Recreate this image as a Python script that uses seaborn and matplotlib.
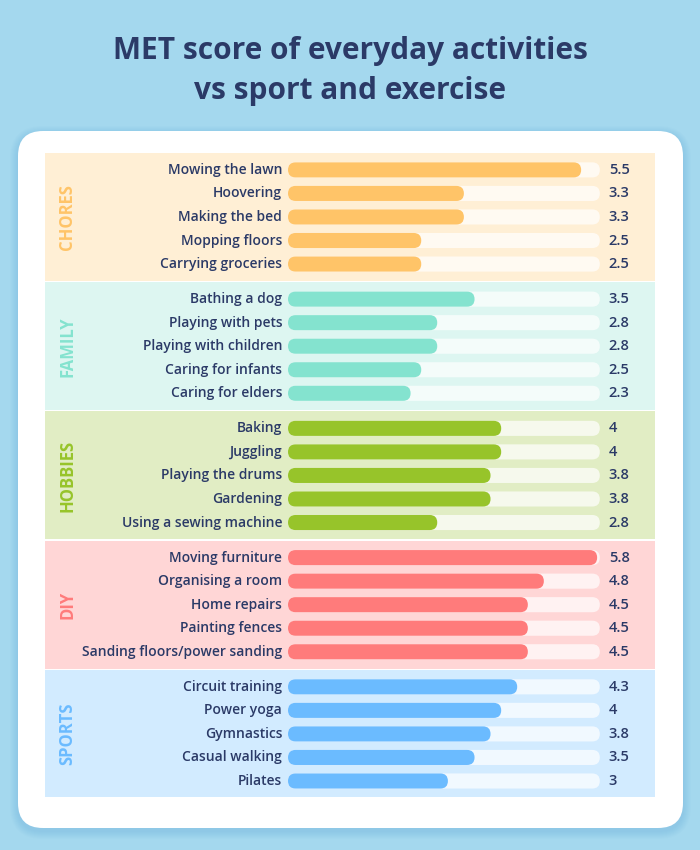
import numpy as np
import pandas as pd
import seaborn as sns
import matplotlib.pyplot as plt
from matplotlib.patches import FancyBboxPatch

# data
groups = ["CHORES", "FAMILY", "HOBBIES", "DIY", "SPORTS"]
chores = ["Mowing the lawn", "Hoovering", "Making the bed", "Mopping floors", "Carrying groceries"]
chores_met = [5.5, 3.3, 3.3, 2.5, 2.5]
family = ["Bathing a dog", "Playing with pets", "Playing with children", "Caring for infants", "Caring for elders"]
family_met = [3.5, 2.8, 2.8, 2.5, 2.3]
hobbies = ["Baking", "Juggling", "Playing the drums", "Gardening", "Using a sewing machine"]
hobbies_met = [4, 4, 3.8, 3.8, 2.8]
diy = ["Moving furniture", "Organising a room", "Home repairs", "Painting fences", "Sanding floors/power sanding"]
diy_met = [5.8, 4.8, 4.5, 4.5, 4.5]
sports = ["Circuit training", "Power yoga", "Gymnastics", "Casual walking", "Pilates"]
sports_met = [4.3, 4, 3.8, 3.5, 3]

bar_colors = ["#FFC468", "#84E3CF", "#97C42A", "#FF7B7B", "#6BBBFF"]
band_colors = ["#FFEFD5", "#DDF6F1", "#E1EDC4", "#FFD6D6", "#D2EBFF"]
bg = "#A4D8EE"
navy = "#2B3A67"

activities = [chores, family, hobbies, diy, sports]
values = [chores_met, family_met, hobbies_met, diy_met, sports_met]

pitch = 5.49   # group spacing in rows
pad = 0.72
track_max = 5.85

rows = []
for g, (names, vals) in enumerate(zip(activities, values)):
    for i, (n, v) in enumerate(zip(names, vals)):
        rows.append({"group": groups[g], "activity": n, "met": v, "pos": g * pitch + i})
df = pd.DataFrame(rows)
df["track"] = track_max

sns.set_style("white")
plt.rcParams["font.family"] = ["Open Sans", "DejaVu Sans"]

W, H = 700, 850
fig = plt.figure(figsize=(W / 100, H / 100), dpi=100, facecolor=bg)

# card with soft shadow
cx0, cy0, cx1, cy1 = 18, 131, 683, 828
ma_fig = W / H
for k in range(8, 0, -1):
    sh = FancyBboxPatch(((cx0 - k) / W, 1 - (cy1 + k + 3) / H), (cx1 - cx0 + 2 * k) / W,
                        (cy1 - cy0 + 2 * k) / H,
                        boxstyle="round,pad=0,rounding_size=%f" % ((25 + k) / W),
                        mutation_aspect=ma_fig, transform=fig.transFigure,
                        facecolor="#5FA8D6", edgecolor="none", alpha=0.035, zorder=0)
    fig.patches.append(sh)
card = FancyBboxPatch((cx0 / W, 1 - cy1 / H), (cx1 - cx0) / W, (cy1 - cy0) / H,
                      boxstyle="round,pad=0,rounding_size=%f" % (25 / W),
                      mutation_aspect=ma_fig, transform=fig.transFigure,
                      facecolor="white", edgecolor="none", zorder=1)
fig.patches.append(card)

fig.text(0.5, 1 - 51 / H, "MET score of everyday activities", ha="center", va="center",
         fontsize=21.5, fontweight="bold", color=navy)
fig.text(0.5, 1 - 91 / H, "vs sport and exercise", ha="center", va="center",
         fontsize=21.5, fontweight="bold", color=navy)

# axes covering the coloured bands
bx0, bx1, by0, by1 = 45, 655, 152, 797
ax = fig.add_axes([bx0 / W, 1 - by1 / H, (bx1 - bx0) / W, (by1 - by0) / H])
ax.set_zorder(2)
px_per_x = 53.3
x_left = -(288 - bx0) / px_per_x
x_right = (bx1 - 288) / px_per_x
y_top = -pad - 0.04
y_bot = (len(groups) - 1) * pitch + 4 + pad - 0.04
ax.set_xlim(x_left, x_right)

for g in range(len(groups)):
    ax.axhspan(g * pitch - pad, g * pitch + 4 + pad, color=band_colors[g], lw=0, zorder=0)

n0 = len(ax.patches)
sns.barplot(data=df, x="track", y="pos", orient="y", native_scale=True, color="white",
            width=0.64, saturation=1, alpha=0.7, ax=ax, zorder=1, legend=False)
sns.barplot(data=df, x="met", y="pos", hue="group", orient="y", native_scale=True,
            palette=dict(zip(groups, bar_colors)), width=0.64, saturation=1,
            ax=ax, zorder=2, legend=False, dodge=False)
ax.set_ylim(y_bot, y_top)

# round the bar ends
sx = ax.get_position().width * W / (x_right - x_left)
sy = ax.get_position().height * H / (y_bot - y_top)
ma = sx / sy
bars = ax.patches[n0:]
for p in bars:
    x, y = p.get_xy()
    w, h = p.get_width(), p.get_height()
    if w <= 0:
        p.remove()
        continue
    rb = FancyBboxPatch((x, y), w, h,
                        boxstyle="round,pad=0,rounding_size=%f" % (abs(h) / ma / 2),
                        mutation_aspect=ma, facecolor=p.get_facecolor(),
                        edgecolor="none", zorder=p.get_zorder())
    p.remove()
    ax.add_patch(rb)

for _, r in df.iterrows():
    ax.text(-0.11, r["pos"], r["activity"], ha="right", va="center",
            fontsize=10, fontweight="semibold", color=navy)
    ax.text(6.02, r["pos"], "%g" % r["met"], ha="left", va="center",
            fontsize=10.5, fontweight="semibold", color=navy)

for g, name in enumerate(groups):
    ax.text((67 - 288) / px_per_x, g * pitch + 2, name, rotation=90, ha="center", va="center",
            fontsize=12, fontweight="bold", color=bar_colors[g])

ax.axis("off")
fig.savefig("out.png", dpi=100, facecolor=bg)
